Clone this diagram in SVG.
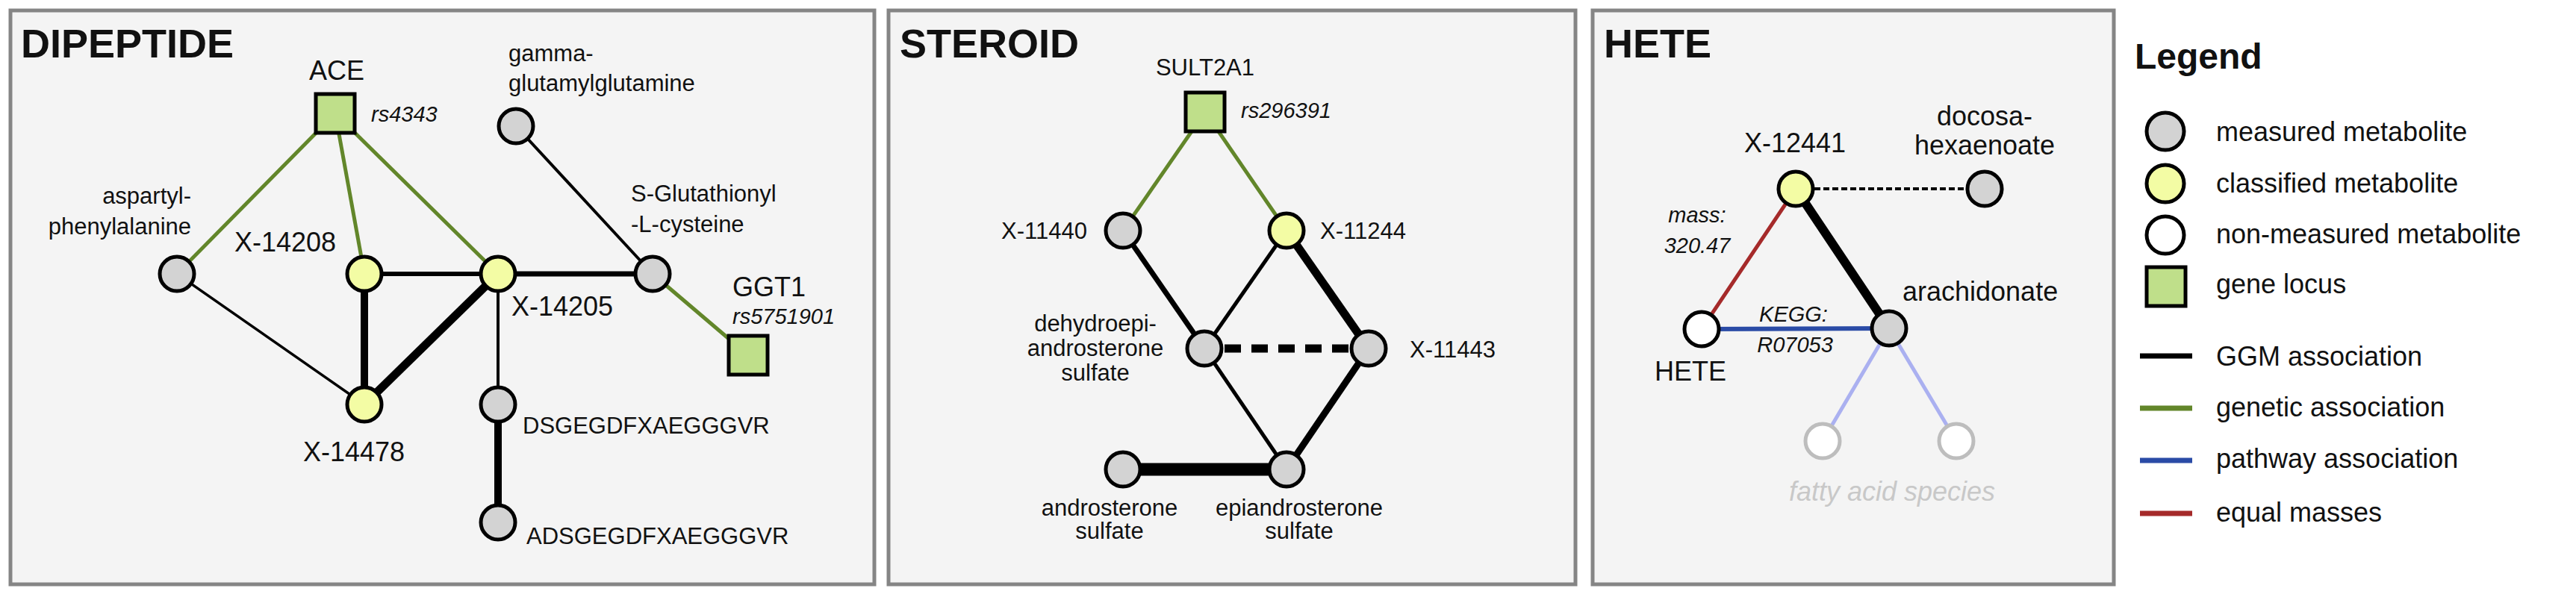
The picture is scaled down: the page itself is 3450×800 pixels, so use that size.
<svg xmlns="http://www.w3.org/2000/svg" width="3450" height="800" viewBox="0 0 3450 800">
<style>
text{font-family:"Liberation Sans",Arial,sans-serif;fill:#111}
.title{font-weight:bold;font-size:54px}
.lg{font-size:36px}.md{font-size:31px}.it{font-style:italic;font-size:29px}
.panel{fill:#f4f4f4;stroke:#858585;stroke-width:5}
.m{fill:#d3d3d3;stroke:#000;stroke-width:5}
.c{fill:#f3fca4;stroke:#000;stroke-width:5}
.n{fill:#fff;stroke:#000;stroke-width:5}
.g{fill:#bfdf8a;stroke:#000;stroke-width:5}
.f{fill:#fff;stroke:#bdbdbd;stroke-width:5}
.k{stroke:#000;fill:none}
.gr{stroke:#62862a;stroke-width:5}
</style>
<rect class="panel" x="14" y="14" width="1157" height="769"/>
<rect class="panel" x="1190" y="14" width="920" height="769"/>
<rect class="panel" x="2133" y="14" width="698" height="769"/>
<text class="title" x="28" y="77">DIPEPTIDE</text>
<text class="title" x="1205" y="77">STEROID</text>
<text class="title" x="2148" y="77">HETE</text>
<g id="connectors">
<line class="gr" x1="449" y1="152" x2="237" y2="367"/>
<line class="gr" x1="449" y1="152" x2="488" y2="367"/>
<line class="gr" x1="449" y1="152" x2="667" y2="367"/>
<line class="gr" x1="874" y1="367" x2="1002" y2="476"/>
<line class="k" stroke-width="4" x1="691" y1="169" x2="874" y2="367"/>
<line class="k" stroke-width="3.5" x1="237" y1="367" x2="488" y2="542"/>
<line class="k" stroke-width="6" x1="488" y1="367" x2="667" y2="367"/>
<line class="k" stroke-width="10" x1="488" y1="367" x2="488" y2="542"/>
<line class="k" stroke-width="11" x1="667" y1="367" x2="488" y2="542"/>
<line class="k" stroke-width="7" x1="667" y1="367" x2="874" y2="367"/>
<line class="k" stroke-width="4" x1="667" y1="367" x2="667" y2="542"/>
<line class="k" stroke-width="10" x1="667" y1="542" x2="667" y2="700"/>
<line class="gr" x1="1614" y1="150" x2="1504" y2="309"/>
<line class="gr" x1="1614" y1="150" x2="1723" y2="309"/>
<line class="k" stroke-width="7" x1="1504" y1="309" x2="1613" y2="467"/>
<line class="k" stroke-width="5" x1="1723" y1="309" x2="1613" y2="467"/>
<line class="k" stroke-width="11" x1="1723" y1="309" x2="1833" y2="467"/>
<line class="k" stroke-width="11" stroke-dasharray="22 14" x1="1640" y1="467" x2="1808" y2="467"/>
<line class="k" stroke-width="5" x1="1613" y1="467" x2="1723" y2="629"/>
<line class="k" stroke-width="9" x1="1833" y1="467" x2="1723" y2="629"/>
<line class="k" stroke-width="17" x1="1504" y1="629" x2="1723" y2="629"/>
<line class="k" stroke-width="4" stroke-dasharray="8 4" x1="2430" y1="253" x2="2634" y2="253"/>
<line stroke="#a52a2a" stroke-width="5" x1="2405" y1="253" x2="2279" y2="441"/>
<line class="k" stroke-width="12" x1="2405" y1="253" x2="2530" y2="440"/>
<line stroke="#2a4ba6" stroke-width="6" x1="2279" y1="441" x2="2530" y2="440"/>
<line stroke="#aab0f0" stroke-width="5" x1="2530" y1="440" x2="2441" y2="591"/>
<line stroke="#aab0f0" stroke-width="5" x1="2530" y1="440" x2="2620" y2="591"/>
</g>
<g id="ACE"><rect class="g" x="423" y="126" width="52" height="52"/><text class="lg" x="451" y="107" text-anchor="middle">ACE</text><text class="it" x="497" y="163">rs4343</text></g>
<g id="gamma"><circle class="m" cx="691" cy="169" r="23"/><text class="md" x="681" y="82">gamma-</text><text class="md" x="681" y="122">glutamylglutamine</text></g>
<g id="asp"><circle class="m" cx="237" cy="367" r="23"/><text class="md" x="256" y="273" text-anchor="end">aspartyl-</text><text class="md" x="256" y="314" text-anchor="end">phenylalanine</text></g>
<g id="X14208"><circle class="c" cx="488" cy="367" r="23"/><text class="lg" x="314" y="337">X-14208</text></g>
<g id="X14205"><circle class="c" cx="667" cy="367" r="23"/><text class="lg" x="685" y="423">X-14205</text></g>
<g id="SGlut"><circle class="m" cx="874" cy="367" r="23"/><text class="md" x="845" y="270">S-Glutathionyl</text><text class="md" x="845" y="311">-L-cysteine</text></g>
<g id="GGT1"><rect class="g" x="976" y="450" width="52" height="52"/><text class="lg" x="981" y="397">GGT1</text><text class="it" x="981" y="434">rs5751901</text></g>
<g id="X14478"><circle class="c" cx="488" cy="542" r="23"/><text class="lg" x="474" y="618" text-anchor="middle">X-14478</text></g>
<g id="DSG"><circle class="m" cx="667" cy="542" r="23"/><text class="md" x="700" y="581">DSGEGDFXAEGGGVR</text></g>
<g id="ADSG"><circle class="m" cx="667" cy="700" r="23"/><text class="md" x="705" y="729">ADSGEGDFXAEGGGVR</text></g>
<g id="SULT2A1"><rect class="g" x="1588" y="124" width="52" height="52"/><text class="md" x="1614" y="101" text-anchor="middle">SULT2A1</text><text class="it" x="1662" y="158">rs296391</text></g>
<g id="X11440"><circle class="m" cx="1504" cy="309" r="23"/><text class="md" x="1456" y="320" text-anchor="end">X-11440</text></g>
<g id="X11244"><circle class="c" cx="1723" cy="309" r="23"/><text class="md" x="1768" y="320">X-11244</text></g>
<g id="DHEA"><circle class="m" cx="1613" cy="467" r="23"/><text class="md" x="1467" y="444" text-anchor="middle">dehydroepi-</text><text class="md" x="1467" y="477" text-anchor="middle">androsterone</text><text class="md" x="1467" y="510" text-anchor="middle">sulfate</text></g>
<g id="X11443"><circle class="m" cx="1833" cy="467" r="23"/><text class="md" x="1888" y="479">X-11443</text></g>
<g id="andro"><circle class="m" cx="1504" cy="629" r="23"/><text class="md" x="1486" y="691" text-anchor="middle">androsterone</text><text class="md" x="1486" y="722" text-anchor="middle">sulfate</text></g>
<g id="epiandro"><circle class="m" cx="1723" cy="629" r="23"/><text class="md" x="1740" y="691" text-anchor="middle">epiandrosterone</text><text class="md" x="1740" y="722" text-anchor="middle">sulfate</text></g>
<g id="X12441"><circle class="c" cx="2405" cy="253" r="23"/><text class="lg" x="2404" y="204" text-anchor="middle">X-12441</text></g>
<g id="doco"><circle class="m" cx="2658" cy="253" r="23"/><text class="lg" x="2658" y="168" text-anchor="middle">docosa-</text><text class="lg" x="2658" y="207" text-anchor="middle">hexaenoate</text></g>
<g id="HETEnode"><circle class="n" cx="2279" cy="441" r="23"/><text class="lg" x="2264" y="510" text-anchor="middle">HETE</text></g>
<g id="arach"><circle class="m" cx="2530" cy="440" r="23"/><text class="lg" x="2548" y="403">arachidonate</text></g>
<g id="fatty"><circle class="f" cx="2441" cy="591" r="23"/><circle class="f" cx="2620" cy="591" r="23"/><text class="lg" x="2534" y="671" text-anchor="middle" style="font-style:italic;fill:#c8c8c8">fatty acid species</text></g>
<text class="it" x="2273" y="298" text-anchor="middle">mass:</text><text class="it" x="2273" y="339" text-anchor="middle">320.47</text>
<text class="it" x="2402" y="431" text-anchor="middle">KEGG:</text><text class="it" x="2404" y="472" text-anchor="middle">R07053</text>
<g id="legend">
<text x="2859" y="92" style="font-weight:bold;font-size:48px">Legend</text>
<circle class="m" cx="2900" cy="176" r="25"/><text class="lg" x="2968" y="189">measured metabolite</text>
<circle class="c" cx="2900" cy="246" r="25"/><text class="lg" x="2968" y="258">classified metabolite</text>
<circle class="n" cx="2900" cy="315" r="25"/><text class="lg" x="2968" y="326">non-measured metabolite</text>
<rect class="g" x="2875" y="358" width="52" height="52"/><text class="lg" x="2968" y="393">gene locus</text>
<line stroke="#000" stroke-width="7" x1="2866" y1="477" x2="2936" y2="477"/><text class="lg" x="2968" y="490">GGM association</text>
<line stroke="#62862a" stroke-width="7" x1="2866" y1="547" x2="2936" y2="547"/><text class="lg" x="2968" y="558">genetic association</text>
<line stroke="#2a4ba6" stroke-width="7" x1="2866" y1="617" x2="2936" y2="617"/><text class="lg" x="2968" y="627">pathway association</text>
<line stroke="#a52a2a" stroke-width="7" x1="2866" y1="688" x2="2936" y2="688"/><text class="lg" x="2968" y="699">equal masses</text>
</g>
</svg>
